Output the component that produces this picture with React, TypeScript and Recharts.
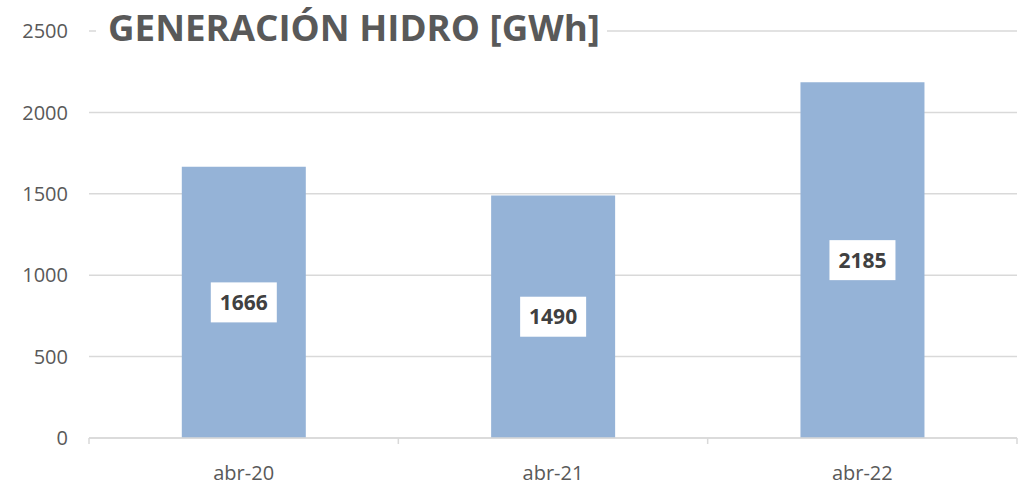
import { BarChart, Bar, XAxis, YAxis, CartesianGrid, LabelList } from 'recharts'

const months = ['abr-20', 'abr-21', 'abr-22']
const hydroGWh = [1666, 1490, 2185]
const yTicks = [0, 500, 1000, 1500, 2000, 2500]
const title = 'GENERACIÓN HIDRO [GWh]'

const data = months.map((m, i) => ({ month: m, value: hydroGWh[i] }))

const FONT = '"Open Sans", "Noto Sans", sans-serif'
const GRAY = '#595959'
const AXIS = '#d9d9d9'

// x tick: label plus the small boundary marks between categories
function MonthTick(props: any) {
    const { x, y, payload, index, visibleTicksCount } = props
    const half = payload?.offset ?? 154.7
    const axisY = y - 28
    return (
        <g>
            <line x1={x - half} x2={x - half} y1={axisY} y2={axisY + 6} stroke={AXIS} strokeWidth={1.5} />
            {index === visibleTicksCount - 1 && (
                <line x1={x + half} x2={x + half} y1={axisY} y2={axisY + 6} stroke={AXIS} strokeWidth={1.5} />
            )}
            <text x={x} y={y} dy="0.71em" textAnchor="middle" fill={GRAY} fontSize={20} fontFamily={FONT}>
                {payload.value}
            </text>
        </g>
    )
}

function BoxLabel(props: any) {
    const { x, y, width, height, value } = props
    const cx = x + width / 2
    const cy = y + height / 2
    return (
        <g>
            <rect x={cx - 33} y={cy - 20} width={66} height={40} fill="#ffffff" />
            <text x={cx} y={cy} dy="0.36em" textAnchor="middle" fill="#404040" fontSize={21} fontWeight="bold" fontFamily={FONT}>
                {value}
            </text>
        </g>
    )
}

export default function App() {
    return (
        <div style={{ position: 'absolute', left: 0, top: 0, width: 1024, height: 497, background: '#fff' }}>
            <BarChart
                width={1024}
                height={497}
                data={data}
                margin={{ top: 31, right: 7, left: 0, bottom: 0 }}
                barCategoryGap="30%"
            >
                <CartesianGrid vertical={false} stroke={AXIS} strokeWidth={1.5} />
                <XAxis
                    dataKey="month"
                    height={59}
                    stroke={AXIS}
                    strokeWidth={1.5}
                    tickLine={false}
                    tickSize={0}
                    tickMargin={28}
                    tick={<MonthTick />}
                    interval={0}
                />
                <YAxis
                    width={89}
                    domain={[0, 2500]}
                    ticks={yTicks}
                    axisLine={false}
                    tickLine={false}
                    tickSize={0}
                    tickMargin={21}
                    tick={{ fill: GRAY, fontSize: 20, fontFamily: FONT }}
                />
                <Bar dataKey="value" fill="#95b3d7" isAnimationActive={false}>
                    <LabelList dataKey="value" content={<BoxLabel />} />
                </Bar>
            </BarChart>
            <svg width={1024} height={60} style={{ position: 'absolute', left: 0, top: 0 }}>
                <rect x={96} y={8} width={511} height={44} fill="#ffffff" />
                <text
                    x={354}
                    y={41}
                    textAnchor="middle"
                    textLength={492}
                    lengthAdjust="spacingAndGlyphs"
                    fill={GRAY}
                    fontSize={35}
                    fontWeight="bold"
                    fontFamily={FONT}
                >
                    {title}
                </text>
            </svg>
        </div>
    )
}
